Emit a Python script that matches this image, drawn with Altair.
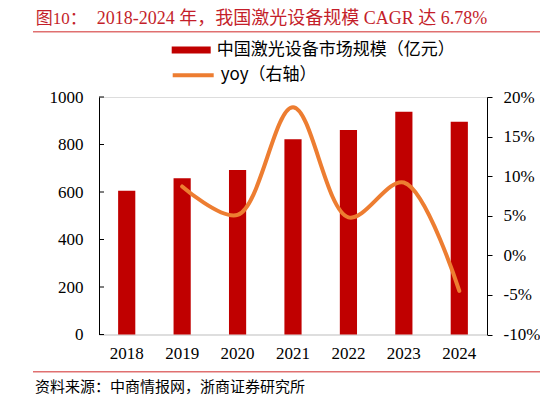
import altair as alt
import pandas as pd

years = ["2018", "2019", "2020", "2021", "2022", "2023", "2024"]
scale_vals = [605, 658, 693, 822, 861, 938, 896]
yoy_vals = [None, 0.087, 0.051, 0.187, 0.048, 0.092, -0.045]
left_ticks = [0, 200, 400, 600, 800, 1000]
right_ticks = [-0.10, -0.05, 0.0, 0.05, 0.10, 0.15, 0.20]
bar_label = "中国激光设备市场规模（亿元）"
line_label = "yoy（右轴）"
title_prefix = "图10："
title_main = "2018-2024 年，我国激光设备规模 CAGR 达 6.78%"
source_text = "资料来源：中商情报网，浙商证券研究所"

SERIF = "Liberation Serif, Noto Sans CJK SC"
NUM = "Liberation Serif"
CJK = "Noto Sans CJK SC"
RED = "#C00000"
ORANGE = "#ED7D31"
TITLE_RED = "#C41E2A"
RULE_RED = "#E07070"

df = pd.DataFrame({"year": years, "scale": scale_vals, "yoy": yoy_vals})
df_line = df.dropna()
df_ticks = pd.DataFrame({"scale": left_ticks})

xenc = alt.X("year:N", sort=years,
             scale=alt.Scale(paddingInner=0.69, paddingOuter=0.345),
             axis=alt.Axis(title=None, labelAngle=0, labelFont=NUM, labelFontSize=17,
                           labelColor="#000", ticks=False, domainColor="#D9D9D9",
                           domainWidth=1.5, labelPadding=11))

left_axis = alt.Axis(title=None, orient="left", values=left_ticks, grid=False,
                     ticks=False, labelPadding=16, labelFont=NUM, labelFontSize=17,
                     labelColor="#000", domainColor="#000", domainWidth=1, format="d")
left_scale = alt.Scale(domain=[0, 1000], nice=False)

bars = alt.Chart(df).transform_calculate(series=f"'{bar_label}'").mark_bar(color=RED).encode(
    x=xenc,
    y=alt.Y("scale:Q", scale=left_scale, axis=left_axis),
    color=alt.Color("series:N", scale=alt.Scale(range=[RED]),
                    legend=alt.Legend(title=None, orient="none", legendX=72.7, legendY=-66.5,
                                      symbolType="M-1,-0.18H1V0.18H-1Z", symbolSize=1521,
                                      symbolStrokeWidth=0, labelFont=CJK, labelFontSize=17,
                                      labelLimit=0, labelColor="#000", labelOffset=6)),
)

lticks = alt.Chart(df_ticks).mark_rule(color="#000", strokeWidth=1).encode(
    y=alt.Y("scale:Q", scale=left_scale, axis=left_axis),
    x=alt.value(0),
    x2=alt.value(5),
)

left_layer = alt.layer(bars, lticks)

line = alt.Chart(df_line).transform_calculate(series=f"'{line_label}'").mark_line(
    strokeWidth=4, interpolate="catmull-rom", strokeCap="round").encode(
    x=alt.X("year:N", sort=years),
    y=alt.Y("yoy:Q", scale=alt.Scale(domain=[-0.10, 0.20], nice=False, zero=False),
            axis=alt.Axis(title=None, orient="right", values=right_ticks, grid=False,
                          tickSize=5, tickColor="#000", labelPadding=11,
                          labelExpr="round(datum.value*100) + '%'",
                          labelFont=NUM, labelFontSize=17, labelColor="#000",
                          domainColor="#000")),
    color=alt.Color("series:N", scale=alt.Scale(range=[ORANGE]),
                    legend=alt.Legend(title=None, orient="none", legendX=71.7, legendY=-44.3,
                                      symbolType="M-1,0H1", symbolSize=1681,
                                      symbolStrokeWidth=4, labelFont=CJK, labelFontSize=17,
                                      labelLimit=0, labelColor="#000", labelOffset=5)),
)

one = pd.DataFrame({"a": [0]})
t1 = alt.Chart(one).mark_text(align="left", baseline="middle", font=SERIF, fontSize=17,
                              color=TITLE_RED).encode(
    text=alt.value(title_prefix), x=alt.value(-63.3), y=alt.value(-78.5))
t2 = alt.Chart(one).mark_text(align="left", baseline="middle", font=SERIF, fontSize=18,
                              color=TITLE_RED).encode(
    text=alt.value(title_main), x=alt.value(-2.3), y=alt.value(-78.5))
r1 = alt.Chart(one).mark_rule(color=RULE_RED, strokeWidth=1.5).encode(
    x=alt.value(-66), x2=alt.value(441), y=alt.value(-65.3))
r2 = alt.Chart(one).mark_rule(color=RULE_RED, strokeWidth=1.5).encode(
    x=alt.value(-66), x2=alt.value(441), y=alt.value(274.7))
t3 = alt.Chart(one).mark_text(align="left", baseline="middle", font=CJK, fontSize=15,
                              color="#000").encode(
    text=alt.value(source_text), x=alt.value(-64), y=alt.value(290))

chart = alt.layer(left_layer, line, t1, t2, r1, r2, t3).resolve_scale(
    y="independent", color="independent"
).resolve_legend(color="independent").properties(
    width=388, height=237.5,
    autosize=alt.AutoSizeParams(type="none"),
    padding={"left": 91, "top": 89, "right": 53, "bottom": 60.5},
).configure_view(stroke=None).configure_axis(
    labelFont=NUM, labelFontSize=17, labelColor="#000"
).configure(background="white")

chart.save("out.html", embed_options={"renderer": "svg", "actions": False})
